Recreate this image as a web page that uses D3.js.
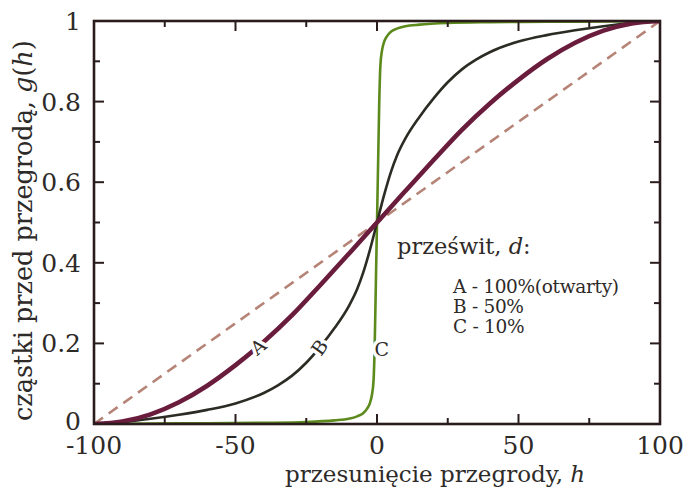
<!DOCTYPE html>
<html>
<head>
<meta charset="utf-8">
<script src="https://cdn.jsdelivr.net/npm/d3@7/dist/d3.min.js"></script>
<style>
  html, body { margin: 0; padding: 0; background: #fff; }
  svg { display: block; }
  text { font-family: "DejaVu Serif", serif; fill: #2e2a28; }
</style>
</head>
<body>
<svg id="chart" width="690" height="488"></svg>
<script>
// ---- data ----
const xTicksMajor = [-100, -50, 0, 50, 100];
const xTicksMinor = [-75, -25, 25, 75];
const yTicksMajor = [0, 0.2, 0.4, 0.6, 0.8, 1];
const yTicksMinor = [0.1, 0.3, 0.5, 0.7, 0.9];
const xTickLabels = ["-100", "-50", "0", "50", "100"];
const yTickLabels = ["0", "0.2", "0.4", "0.6", "0.8", "1"];

// diagonal reference (dashed)
const curveDiag = [[-100, 0], [100, 1]];
// A - 100% (otwarty)
const curveA = [[-100, 0], [-90, 0.006], [-80, 0.024], [-70, 0.054], [-60, 0.095], [-50, 0.146],
  [-40, 0.204], [-30, 0.27], [-20, 0.345], [-10, 0.422], [0, 0.5], [10, 0.578], [20, 0.655],
  [30, 0.73], [40, 0.796], [50, 0.854], [60, 0.905], [70, 0.946], [80, 0.976], [90, 0.994], [100, 1]];
// B - 50%
const curveB = [[-100, 0], [-90, 0.005], [-80, 0.013], [-70, 0.023], [-60, 0.035], [-50, 0.051],
  [-40, 0.077], [-35, 0.096], [-30, 0.12], [-25, 0.152], [-20, 0.192], [-15, 0.238], [-10, 0.292],
  [-7, 0.335], [-5, 0.373], [-2.5, 0.432], [0, 0.5], [2.5, 0.568], [5, 0.627], [7, 0.665], [10, 0.708],
  [15, 0.762], [20, 0.808], [25, 0.848], [30, 0.88], [35, 0.904], [40, 0.923], [50, 0.949],
  [60, 0.965], [70, 0.977], [80, 0.987], [90, 0.995], [100, 1]];
// C - 10%
const curveC = [[-100, 0], [-80, 0.001], [-60, 0.002], [-40, 0.003], [-25, 0.005], [-15, 0.009],
  [-10, 0.013], [-7, 0.019], [-5, 0.026], [-3.5, 0.038], [-2.5, 0.052], [-1.8, 0.072], [-1.2, 0.11],
  [-0.8, 0.2], [-0.4, 0.35], [0, 0.5], [0.4, 0.65], [0.8, 0.8], [1.2, 0.89], [1.8, 0.928],
  [2.5, 0.948], [3.5, 0.962], [5, 0.974], [7, 0.981], [10, 0.987], [15, 0.991], [25, 0.995],
  [40, 0.997], [60, 0.998], [80, 0.999], [100, 1]];

const curveLabels = [
  { text: "A", h: -42, g: 0.192, series: "A" },
  { text: "B", h: -20.3, g: 0.19, series: "B" },
  { text: "C", h: 1.7, g: 0.185, series: "C" }
];
const legendTitle = "prześwit, ";
const legendItems = ["A - 100%(otwarty)", "B - 50%", "C - 10%"];
const xTitle = "przesunięcie przegrody, ";
const yTitle = "cząstki przed przegrodą, ";

// ---- drawing ----
const svg = d3.select("#chart");
const x = d3.scaleLinear().domain([-100, 100]).range([94, 660]);
const y = d3.scaleLinear().domain([0, 1]).range([424, 21]);

svg.append("defs").append("clipPath").attr("id", "plotclip")
  .append("rect").attr("x", x(-100)).attr("y", y(1))
  .attr("width", x(100) - x(-100)).attr("height", y(0) - y(1));

const line = d3.line().x(d => x(d[0])).y(d => y(d[1])).curve(d3.curveMonotoneX);
const plot = svg.append("g").attr("clip-path", "url(#plotclip)");

plot.append("path").datum(curveDiag).attr("d", line)
  .attr("fill", "none").attr("stroke", "#b58477").attr("stroke-width", 2.6)
  .attr("stroke-dasharray", "11,7");

const styles = {
  C: { data: curveC, color: "#5c8a1c", width: 2.6 },
  B: { data: curveB, color: "#2c2b24", width: 2.6 },
  A: { data: curveA, color: "#6a1c3c", width: 4.6 }
};
["C", "B", "A"].forEach(k => {
  plot.append("path").datum(styles[k].data).attr("d", line)
    .attr("fill", "none").attr("stroke", styles[k].color)
    .attr("stroke-width", styles[k].width).attr("stroke-linejoin", "round");
});

// curve labels with white halo that breaks the lines
function slopeAngle(data, h) {
  const i = d3.bisector(d => d[0]).left(data, h);
  const p0 = data[Math.max(0, i - 1)], p1 = data[Math.min(data.length - 1, i)];
  const dx = x(p1[0]) - x(p0[0]), dy = y(p1[1]) - y(p0[1]);
  return Math.atan2(dy, dx) * 180 / Math.PI;
}
curveLabels.forEach(l => {
  let ang = l.series === "C" ? 0 : slopeAngle(styles[l.series].data, l.h);
  if (l.series === "B") ang = ang - 6;
  const g = svg.append("g")
    .attr("transform", `translate(${x(l.h)},${y(l.g)}) rotate(${ang})`);
  g.append("text").text(l.text)
    .attr("text-anchor", "middle").attr("dy", "0.36em")
    .attr("font-size", 19)
    .attr("stroke", "#fff").attr("stroke-width", 7).attr("paint-order", "stroke")
    .attr("stroke-linejoin", "round");
});

// frame
const frameColor = "#2a1c1d";
svg.append("rect").attr("x", x(-100)).attr("y", y(1))
  .attr("width", x(100) - x(-100)).attr("height", y(0) - y(1))
  .attr("fill", "none").attr("stroke", frameColor).attr("stroke-width", 2.6);

// inward ticks on all four sides
const tk = svg.append("g").attr("stroke", frameColor).attr("stroke-width", 2);
xTicksMajor.concat(xTicksMinor).forEach(v => {
  const len = xTicksMajor.includes(v) ? 10 : 6;
  tk.append("line").attr("x1", x(v)).attr("x2", x(v)).attr("y1", y(0)).attr("y2", y(0) - len);
  tk.append("line").attr("x1", x(v)).attr("x2", x(v)).attr("y1", y(1)).attr("y2", y(1) + len);
});
yTicksMajor.concat(yTicksMinor).forEach(v => {
  const len = yTicksMajor.includes(v) ? 10 : 6;
  tk.append("line").attr("y1", y(v)).attr("y2", y(v)).attr("x1", x(-100)).attr("x2", x(-100) + len);
  tk.append("line").attr("y1", y(v)).attr("y2", y(v)).attr("x1", x(100)).attr("x2", x(100) - len);
});

// tick labels
xTicksMajor.forEach((v, i) => {
  svg.append("text").attr("x", x(v)).attr("y", 454)
    .attr("text-anchor", "middle").attr("font-size", 25).text(xTickLabels[i]);
});
yTicksMajor.forEach((v, i) => {
  svg.append("text").attr("x", 81).attr("y", y(v)).attr("dy", i === 0 ? "0.24em" : "0.36em")
    .attr("text-anchor", "end").attr("font-size", 25).text(yTickLabels[i]);
});

// axis titles
const xt = svg.append("text").attr("x", 285).attr("y", 482).attr("font-size", 23);
xt.append("tspan").text(xTitle);
xt.append("tspan").attr("font-style", "italic").text("h");

const yt = svg.append("text").attr("transform", `translate(32,421) rotate(-90)`)
  .attr("font-size", 25.5);
yt.append("tspan").text(yTitle);
yt.append("tspan").attr("font-style", "italic").text("g");
yt.append("tspan").text("(");
yt.append("tspan").attr("font-style", "italic").text("h");
yt.append("tspan").text(")");

// legend
const lt = svg.append("text").attr("x", 397).attr("y", 254).attr("font-size", 22.5);
lt.append("tspan").text(legendTitle);
lt.append("tspan").attr("font-style", "italic").text("d");
lt.append("tspan").text(":");

legendItems.forEach((t, i) => {
  svg.append("text").attr("x", 453).attr("y", 293 + i * 20).attr("font-size", 18.5)
    .attr("letter-spacing", -0.3).text(t);
});
</script>
</body>
</html>
